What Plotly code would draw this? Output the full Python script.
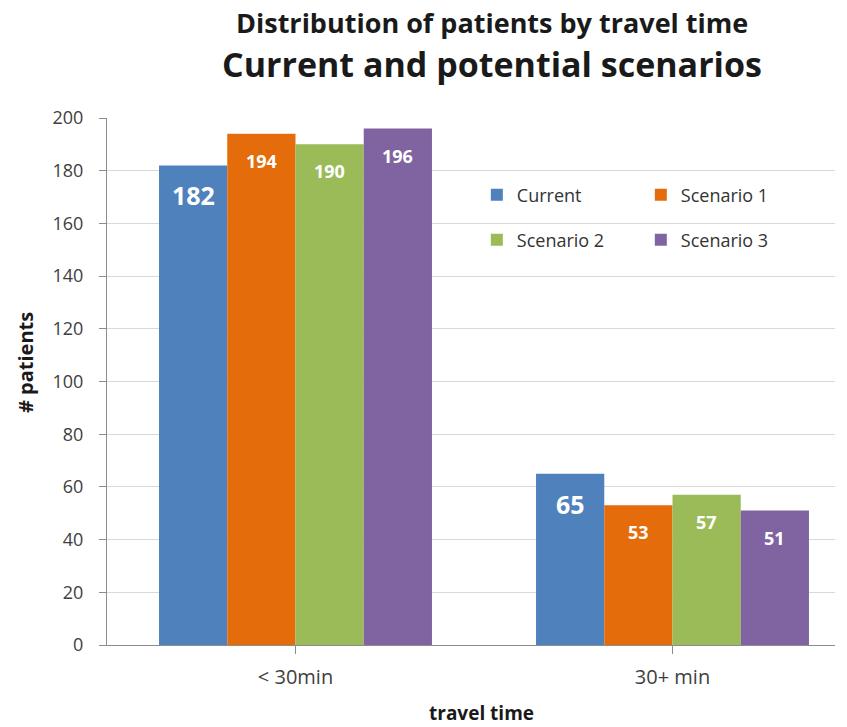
import plotly.graph_objects as go

# Categories and series values
categories = ["< 30min", "30+ min"]
series_names = ["Current", "Scenario 1", "Scenario 2", "Scenario 3"]
current = [182, 65]
scenario_1 = [194, 53]
scenario_2 = [190, 57]
scenario_3 = [196, 51]
y_ticks = [0, 20, 40, 60, 80, 100, 120, 140, 160, 180, 200]

series_values = [current, scenario_1, scenario_2, scenario_3]
colors = ["#4F81BD", "#E46C0A", "#9BBB59", "#8064A2"]
legend_ids = ["legend", "legend", "legend2", "legend2"]
label_sizes = [25, 18, 18, 18]
label_shift = [-30, -27, -27, -27]

FONT = "Open Sans"
TEXT = "#1a1a1a"
bargap = 0.276
n = len(series_names)
bar_w = (1 - bargap) / n

fig = go.Figure()
for i, (name, vals) in enumerate(zip(series_names, series_values)):
    fig.add_trace(go.Bar(
        x=list(range(len(categories))), y=vals, name=name,
        marker=dict(color=colors[i], line=dict(width=0)),
        legend=legend_ids[i],
    ))
    # value labels inside the top of each bar
    offset = -(1 - bargap) / 2 + bar_w * (i + 0.5)
    for c, v in enumerate(vals):
        fig.add_annotation(
            x=c + offset, y=v, xref="x", yref="y", text=f"<b>{v}</b>",
            showarrow=False, yanchor="middle", yshift=label_shift[i],
            font=dict(family=FONT, size=label_sizes[i], color="white"),
        )

# Two-line title
fig.add_annotation(x=0.529, xref="paper", y=1, yref="paper", yshift=96,
                   text="<b>Distribution of patients by travel time</b>", showarrow=False,
                   font=dict(family=FONT, size=27, color=TEXT), yanchor="middle")
fig.add_annotation(x=0.529, xref="paper", y=1, yref="paper", yshift=54,
                   text="<b>Current and potential scenarios</b>", showarrow=False,
                   font=dict(family=FONT, size=34, color=TEXT), yanchor="middle")
# Axis titles
fig.add_annotation(x=0.514, xref="paper", y=0, yref="paper", yshift=-68,
                   text="<b>travel time</b>", showarrow=False,
                   font=dict(family=FONT, size=19, color=TEXT), yanchor="middle")
fig.add_annotation(x=0, xref="paper", xshift=-82, y=0.535, yref="paper",
                   text="<b># patients</b>", showarrow=False, textangle=-90,
                   font=dict(family=FONT, size=20, color=TEXT), xanchor="center")

legend_common = dict(
    orientation="h", xanchor="left", yanchor="middle",
    font=dict(family=FONT, size=18, color="#333333"),
    entrywidth=119, entrywidthmode="pixels", itemwidth=30,
    bgcolor="rgba(0,0,0,0)",
)

fig.update_layout(
    width=847, height=727,
    margin=dict(l=107, r=12, t=118, b=82, autoexpand=False),
    paper_bgcolor="white", plot_bgcolor="white",
    barmode="group", bargap=bargap, bargroupgap=0,
    showlegend=True,
    legend=dict(x=0.508, y=1 - (195 - 118) / 527, **legend_common),
    legend2=dict(x=0.508, y=1 - (240 - 118) / 527, **legend_common),
    font=dict(family=FONT, color="#404040"),
    xaxis=dict(
        range=[-0.5, -0.5 + 728 / 377], tickmode="array",
        tickvals=list(range(len(categories))), ticktext=categories,
        tickson="boundaries", ticks="outside", ticklen=8, tickcolor="#8c8c8c",
        showline=True, linecolor="#8c8c8c", linewidth=1,
        showgrid=False, zeroline=False,
        tickfont=dict(family=FONT, size=20, color="#404040"),
        ticklabelstandoff=6,
    ),
    yaxis=dict(
        range=[0, 200], tickvals=y_ticks, ticks="outside", ticklen=7,
        tickcolor="#8c8c8c", showline=True, linecolor="#8c8c8c", linewidth=1,
        showgrid=True, gridcolor="#d9d9d9", gridwidth=1, zeroline=False,
        tickfont=dict(family=FONT, size=18, color="#404040"),
        ticklabelstandoff=12,
    ),
)

fig.write_html("out.html")
